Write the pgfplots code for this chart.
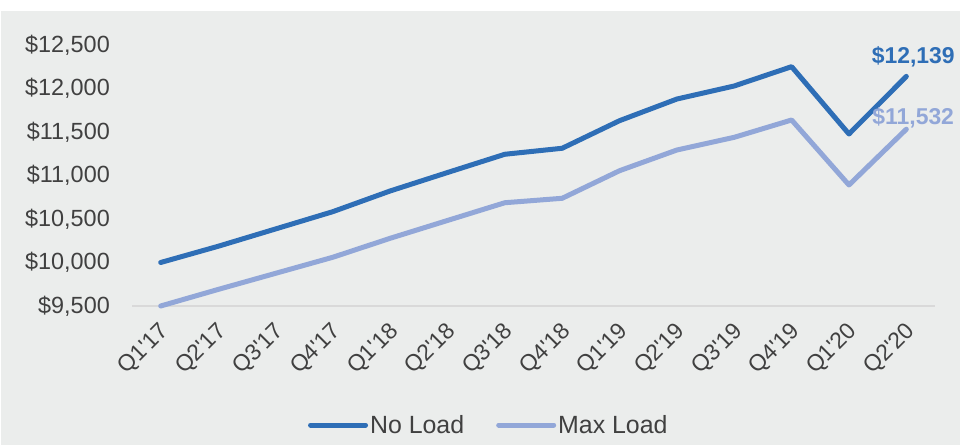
\documentclass[border=0pt]{standalone}
\usepackage{fontspec}
\setmainfont{Liberation Sans}
\usepackage{pgfplots}
\pgfplotsset{compat=1.18}
\definecolor{nl}{RGB}{46,110,182}
\definecolor{ml}{RGB}{146,167,216}
\definecolor{bg}{RGB}{235,237,236}
\definecolor{tx}{RGB}{64,64,64}
\definecolor{ax}{RGB}{217,217,217}
\begin{document}
\begin{tikzpicture}
\fill[white] (0,0) rectangle (960bp,445bp);
\fill[bg] (1bp,0) rectangle (960bp,434bp);
\begin{axis}[
 at={(132bp,139bp)}, anchor=south west,
 width=803bp, height=261bp, scale only axis,
 xmin=-0.5, xmax=13.5, ymin=9500, ymax=12500,
 clip=false,
 axis line style={draw=none},
 major tick length=0,
 scaled y ticks=false,
 xtick={0,...,13},
 xticklabels={Q1\textquotesingle17,Q2\textquotesingle17,Q3\textquotesingle17,Q4\textquotesingle17,Q1\textquotesingle18,Q2\textquotesingle18,Q3\textquotesingle18,Q4\textquotesingle18,Q1\textquotesingle19,Q2\textquotesingle19,Q3\textquotesingle19,Q4\textquotesingle19,Q1\textquotesingle20,Q2\textquotesingle20},
 ytick={9500,10000,...,12500},
 yticklabel={\$\pgfmathprintnumber{\tick}},
 /pgf/number format/fixed,
 /pgf/number format/1000 sep={,},
 /pgf/number format/assume math mode=true,
 yticklabel style={font=\fontsize{23.5}{23.5}\selectfont, text=tx, anchor=east, inner sep=0pt, xshift=-22bp},
 xticklabel style={font=\fontsize{23}{23}\selectfont, text=tx, inner sep=0pt, xshift=5bp, yshift=-22bp, rotate=45, anchor=east},
 legend style={at={(rel axis cs:0.219,-0.456)}, anchor=west, draw=none, fill=none, inner sep=0pt,
   font=\fontsize{25}{25}\selectfont, text=tx, legend columns=2,
   /tikz/every even column/.append style={column sep=30bp}},
 legend image code/.code={\draw[#1] (0bp,0bp) -- (55bp,0bp);},
 every axis plot/.append style={line width=5bp, line cap=round, line join=round},
]
\draw[ax, line width=1.5bp] (axis cs:-0.5,9500) -- (axis cs:13.5,9500);
\addplot[nl] coordinates {(0,10000) (1,10186) (2,10385) (3,10584) (4,10822) (5,11034) (6,11244) (7,11313) (8,11630) (9,11879) (10,12029) (11,12251) (12,11477) (13,12139)};
\addlegendentry{No Load}
\addplot[ml] coordinates {(0,9500) (1,9690) (2,9875) (3,10060) (4,10278) (5,10483) (6,10687) (7,10738) (8,11055) (9,11293) (10,11439) (11,11638) (12,10891) (13,11532)};
\addlegendentry{Max Load}
\node[font=\bfseries\fontsize{23}{23}\selectfont, text=nl, inner sep=0pt] at (axis cs:13.12,12362) {\$12,139};
\node[font=\bfseries\fontsize{23}{23}\selectfont, text=ml, inner sep=0pt] at (axis cs:13.12,11661) {\$11,532};
\end{axis}
\end{tikzpicture}
\end{document}
